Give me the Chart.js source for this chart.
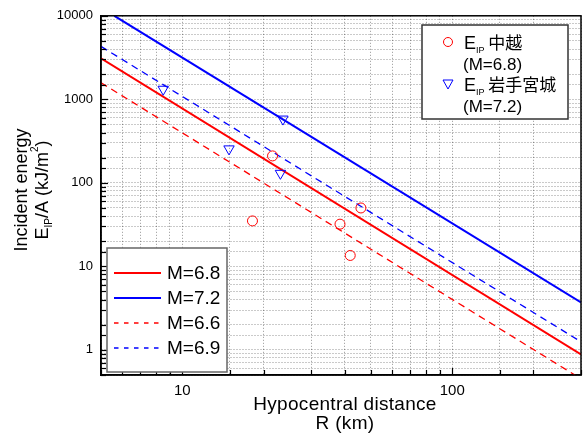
<!DOCTYPE html>
<html>
<head>
<meta charset="utf-8">
<script src="https://cdn.jsdelivr.net/npm/chart.js@4"></script>
<style>
  html, body { margin: 0; padding: 0; background: #fff; }
  #wrap { width: 583px; height: 437px; }
</style>
</head>
<body>
<div id="wrap"><canvas id="chart-1" width="583" height="437"></canvas></div>
<script>
// fitted lines, two end points each (R in km, E in kJ/m2)
const lineLabels = ['M=6.8', 'M=7.2', 'M=6.6', 'M=6.9'];
const m68R = [5, 300];
const m68E = [3100, 0.88];
const m72R = [5.6, 300];
const m72E = [10000, 3.7];
const m66R = [5, 300];
const m66E = [1580, 0.45];
const m69R = [5, 300];
const m69E = [4300, 1.25];

// observed E_IP
const chuetsuR = [21.6, 18.2, 38.4, 41.9, 45.9];
const chuetsuE = [210, 35, 32, 13.5, 50];
const iwateR = [8.5, 14.9, 23.6, 23.1];
const iwateE = [1320, 255, 580, 130];

const xTickLabels = ['10', '100'];
const yTickLabels = ['1', '10', '100', '1000', '10000'];

const FONT = "'Liberation Sans', Arial, sans-serif";
const CJK = "'Noto Sans CJK JP', 'Liberation Sans', sans-serif";
const RED = '#ff0000';
const BLUE = '#0000ff';

function pts(xs, ys) {
  return xs.map((x, i) => ({ x: x, y: ys[i] }));
}

// draw a run of text pieces (for sub / superscripts)
function richText(ctx, parts, x, y, align) {
  let total = 0;
  parts.forEach(p => {
    ctx.font = p.size + 'px ' + (p.family || FONT);
    p.w = ctx.measureText(p.t).width;
    total += p.w;
  });
  let cx = align === 'center' ? x - total / 2 : x;
  ctx.textAlign = 'left';
  ctx.textBaseline = 'alphabetic';
  parts.forEach(p => {
    ctx.font = p.size + 'px ' + (p.family || FONT);
    ctx.fillText(p.t, cx, y + (p.dy || 0));
    cx += p.w;
  });
}

const isDecade = v => Math.abs(Math.log10(v) - Math.round(Math.log10(v))) < 1e-6;

const framePlugin = {
  id: 'frame',
  afterDraw(chart) {
    const { ctx, chartArea: a, scales } = chart;
    ctx.save();
    // inward tick marks
    ctx.strokeStyle = '#000';
    ctx.lineWidth = 1.2;
    scales.x.ticks.forEach(t => {
      const px = Math.round(scales.x.getPixelForValue(t.value)) + 0.5;
      const len = isDecade(t.value) ? 7 : 5;
      ctx.beginPath();
      ctx.moveTo(px, a.bottom);
      ctx.lineTo(px, a.bottom - len);
      ctx.stroke();
    });
    scales.y.ticks.forEach(t => {
      const py = Math.round(scales.y.getPixelForValue(t.value)) + 0.5;
      const len = isDecade(t.value) ? 7 : 5;
      ctx.beginPath();
      ctx.moveTo(a.left, py);
      ctx.lineTo(a.left + len, py);
      ctx.stroke();
    });
    // box
    ctx.lineWidth = 1.5;
    ctx.strokeRect(a.left, a.top, a.right - a.left, a.bottom - a.top);

    // x title
    ctx.fillStyle = '#000';
    ctx.font = '19px ' + FONT;
    ctx.textAlign = 'center';
    ctx.textBaseline = 'middle';
    ctx.letterSpacing = '0.3px';
    ctx.fillText('Hypocentral distance', 345, 405);
    ctx.fillText('R (km)', 345, 424);
    ctx.letterSpacing = '0px';

    // y title
    ctx.save();
    ctx.translate(27, 190);
    ctx.rotate(-Math.PI / 2);
    ctx.font = '18px ' + FONT;
    ctx.textAlign = 'center';
    ctx.textBaseline = 'alphabetic';
    ctx.fillText('Incident energy', 0, 0);
    ctx.restore();
    ctx.save();
    ctx.translate(48, 190);
    ctx.rotate(-Math.PI / 2);
    richText(ctx, [
      { t: 'E', size: 18 },
      { t: 'IP', size: 10, dy: 4 },
      { t: '/A (kJ/m', size: 18 },
      { t: '2', size: 10, dy: -10 },
      { t: ')', size: 18 }
    ], 0, 0, 'center');
    ctx.restore();

    // legend: lines (bottom left)
    ctx.fillStyle = '#fff';
    ctx.fillRect(107, 248, 120, 124);
    ctx.strokeStyle = '#666';
    ctx.lineWidth = 1.5;
    ctx.strokeRect(107, 248, 120, 124);
    const lineStyles = chart.data.datasets.filter(d => d.showLine);
    lineStyles.forEach((d, i) => {
      const y = 273 + i * 25;
      ctx.strokeStyle = d.borderColor;
      ctx.lineWidth = d.borderWidth;
      ctx.setLineDash(d.borderDash ? [4.5, 5.5] : []);
      ctx.beginPath();
      ctx.moveTo(114, y);
      ctx.lineTo(161, y);
      ctx.stroke();
      ctx.setLineDash([]);
      ctx.fillStyle = '#000';
      ctx.font = '19px ' + FONT;
      ctx.textAlign = 'left';
      ctx.textBaseline = 'middle';
      ctx.fillText(d.label, 167, y + 1);
    });

    // legend: observations (top right)
    ctx.fillStyle = '#fff';
    ctx.fillRect(422, 25, 146, 94);
    ctx.strokeStyle = '#333';
    ctx.lineWidth = 1.5;
    ctx.strokeRect(422, 25, 146, 94);
    // circle
    ctx.strokeStyle = RED;
    ctx.lineWidth = 1;
    ctx.beginPath();
    ctx.arc(448, 42, 4.5, 0, Math.PI * 2);
    ctx.stroke();
    // triangle down
    ctx.strokeStyle = BLUE;
    ctx.beginPath();
    ctx.moveTo(443, 80);
    ctx.lineTo(453, 80);
    ctx.lineTo(448, 89);
    ctx.closePath();
    ctx.stroke();
    ctx.fillStyle = '#000';
    richText(ctx, [
      { t: 'E', size: 18 },
      { t: 'IP', size: 9, dy: 4 },
      { t: ' 中越', size: 17, family: CJK }
    ], 464, 49, 'left');
    richText(ctx, [{ t: '(M=6.8)', size: 17 }], 463, 70, 'left');
    richText(ctx, [
      { t: 'E', size: 18 },
      { t: 'IP', size: 9, dy: 4 },
      { t: ' 岩手宮城', size: 17, family: CJK }
    ], 464, 91, 'left');
    richText(ctx, [{ t: '(M=7.2)', size: 17 }], 463, 112, 'left');
    ctx.restore();
  }
};

const GRID_COLOR = 'rgba(0,0,0,0.42)';

const chart = new Chart(document.getElementById('chart-1'), {
  type: 'scatter',
  data: {
    datasets: [
      {
        label: 'EIP 中越 (M=6.8)',
        data: pts(chuetsuR, chuetsuE),
        pointStyle: 'circle',
        pointRadius: 5,
        pointBorderColor: RED,
        pointBackgroundColor: 'rgba(0,0,0,0)',
        pointBorderWidth: 1,
        showLine: false
      },
      {
        label: 'EIP 岩手宮城 (M=7.2)',
        data: pts(iwateR, iwateE),
        pointStyle: 'triangle',
        pointRotation: 180,
        pointRadius: 6,
        pointBorderColor: BLUE,
        pointBackgroundColor: 'rgba(0,0,0,0)',
        pointBorderWidth: 1,
        showLine: false
      },
      {
        label: lineLabels[0],
        data: pts(m68R, m68E),
        showLine: true,
        borderColor: RED,
        borderWidth: 2,
        pointRadius: 0
      },
      {
        label: lineLabels[1],
        data: pts(m72R, m72E),
        showLine: true,
        borderColor: BLUE,
        borderWidth: 2,
        pointRadius: 0
      },
      {
        label: lineLabels[2],
        data: pts(m66R, m66E),
        showLine: true,
        borderColor: RED,
        borderWidth: 1.3,
        borderDash: [7, 5],
        pointRadius: 0
      },
      {
        label: lineLabels[3],
        data: pts(m69R, m69E),
        showLine: true,
        borderColor: BLUE,
        borderWidth: 1.3,
        borderDash: [7, 5],
        pointRadius: 0
      }
    ]
  },
  options: {
    responsive: false,
    animation: false,
    layout: { autoPadding: false, padding: { top: 15, right: 2, left: 0, bottom: 0 } },
    plugins: {
      legend: { display: false },
      tooltip: { enabled: false }
    },
    scales: {
      x: {
        type: 'logarithmic',
        min: 5,
        max: 300,
        afterFit: (scale) => { scale.height = 62; },
        grid: {
          color: GRID_COLOR,
          lineWidth: 1,
          drawTicks: true,
          tickLength: 7,
          tickColor: 'rgba(0,0,0,0)'
        },
        border: { color: '#000', width: 1.5, dash: [1, 2] },
        ticks: {
          autoSkip: false,
          maxRotation: 0,
          padding: 0,
          color: '#000',
          font: { family: FONT, size: 15 },
          callback: (value) => xTickLabels.includes(String(value)) ? String(value) : ''
        }
      },
      y: {
        type: 'logarithmic',
        min: 0.5,
        max: 10000,
        afterFit: (scale) => { scale.width = 101; },
        grid: { color: GRID_COLOR, lineWidth: 1, drawTicks: false },
        border: { color: '#000', width: 1.5, dash: [1, 2] },
        ticks: {
          autoSkip: false,
          padding: 8,
          color: '#000',
          font: { family: FONT, size: 13 },
          callback: (value) => yTickLabels.includes(String(value)) ? String(value) : ''
        }
      }
    }
  },
  plugins: [framePlugin]
});
</script>
</body>
</html>
